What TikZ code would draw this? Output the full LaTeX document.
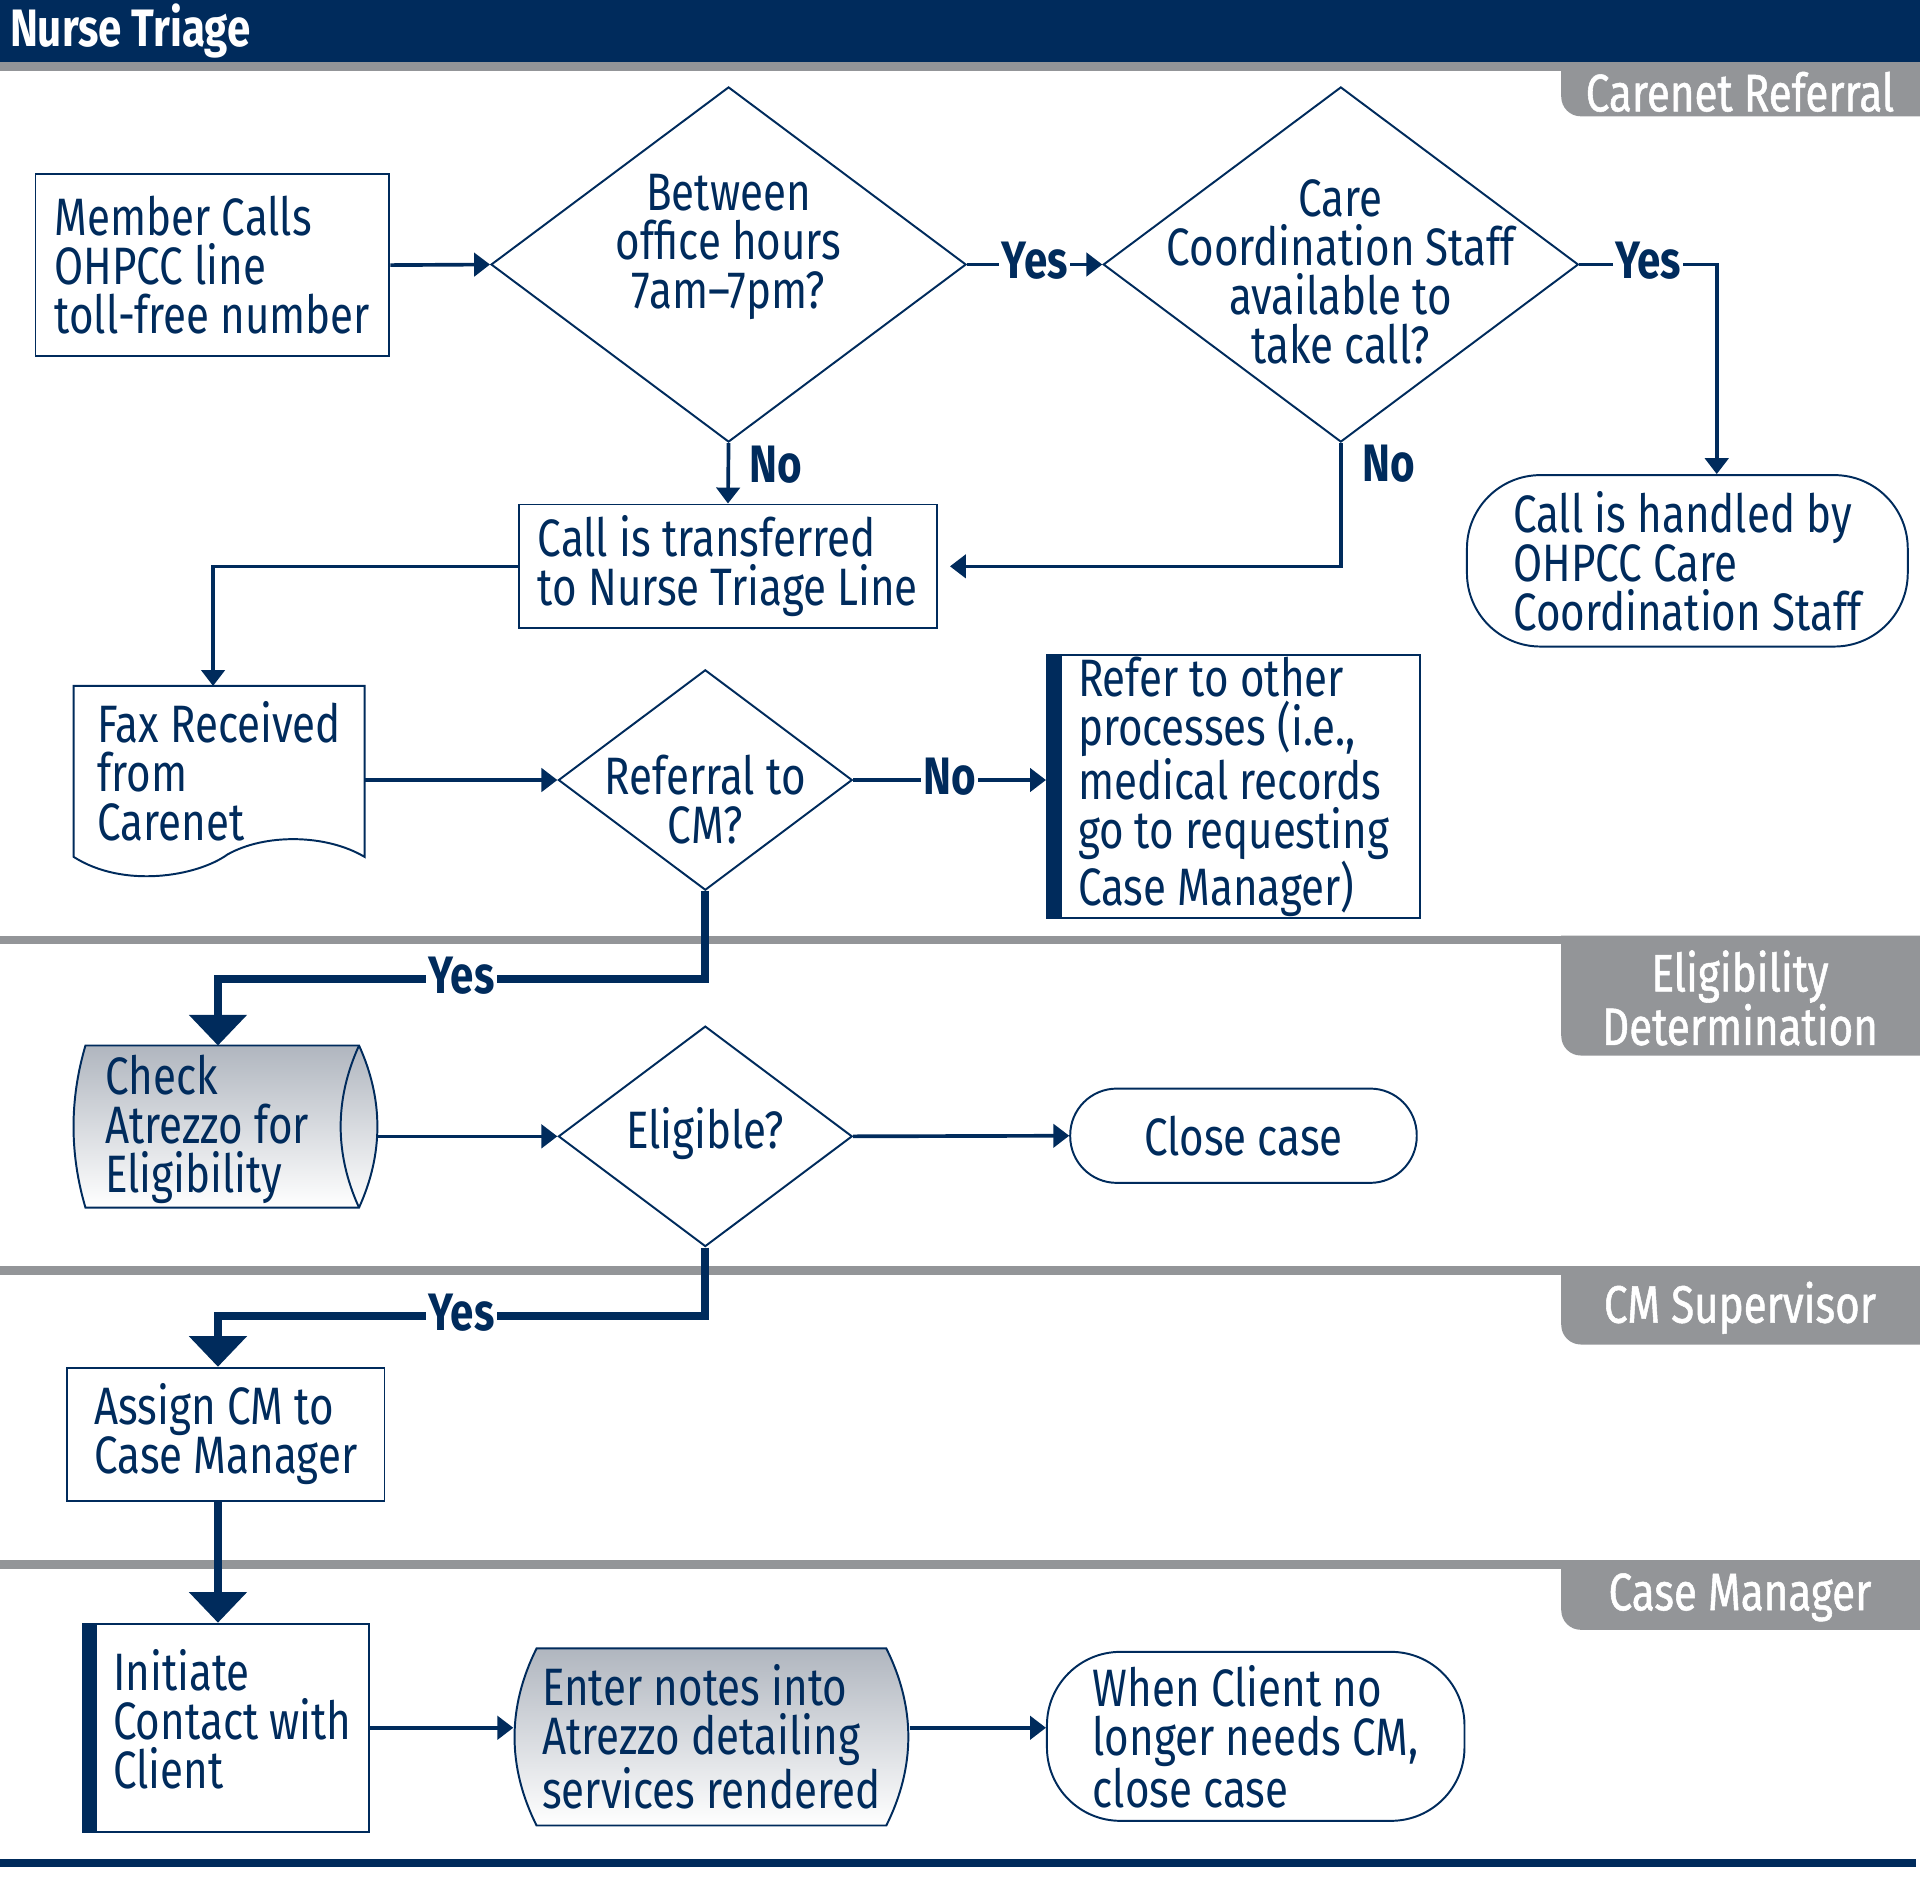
\documentclass[tikz,border=0pt]{standalone}
\usepackage{fontspec}
\setmainfont[FakeStretch=0.80]{Fira Sans}
\newfontfamily\tabfont[FakeStretch=0.80,FakeBold=1]{Fira Sans}
\usetikzlibrary{arrows.meta,positioning,shapes.geometric,calc,backgrounds}
\definecolor{navy}{HTML}{002B5C}
\definecolor{lanegray}{HTML}{939598}
\definecolor{shadegray}{HTML}{B0B6BF}
\newcommand{\flowfont}{\fontsize{43}{40}\selectfont}

\begin{document}
\begin{tikzpicture}[x=1pt, y=-1pt,
  font=\flowfont, text=navy,
  box/.style={draw=navy, line width=1.6pt, align=left, inner sep=0pt},
  term/.style={box, rounded corners=#1},
  dia/.style={diamond, draw=navy, line width=1.6pt, inner sep=0pt},
  dtxt/.style={align=center, inner sep=0pt},
  ltxt/.style={align=left, inner sep=0pt, anchor=west},
  shp/.style={draw=navy, line width=1.6pt},
  arr/.style={-{Triangle[length=13pt,width=19pt]}, line width=3pt, draw=navy},
  thk/.style={-{Triangle[length=25pt,width=46pt]}, line width=6.5pt, draw=navy},
  inlbl/.style={font=\flowfont\bfseries, fill=white, inner xsep=2pt, inner ysep=0pt, yshift=3pt},
  sidelbl/.style={font=\flowfont\bfseries, inner sep=0pt, anchor=west},
  lanetab/.style={font=\tabfont\flowfont, text=white, align=center, inner sep=0pt}
]
\useasboundingbox (0,0) rectangle (1568,1543);

% header
\fill[navy] (0,0) rectangle (1568,51);
\node[anchor=west, font=\flowfont\bfseries, text=white, inner sep=0pt] (title) at (8,25) {Nurse Triage};

% carenet referral
\node[box, minimum width=289pt, minimum height=149pt] (member) at (173.5,216.5) {Member Calls\\OHPCC line\\toll-free number};
\node[dia, minimum width=388pt, minimum height=290pt] (hours) at (595,216) {};
\node[dtxt, yshift=14pt] (hourst) at (hours) {Between\\office hours\\7am–7pm?};
\node[dia, minimum width=388pt, minimum height=290pt] (staff) at (1095,216) {};
\node[dtxt, yshift=-6pt] (stafft) at (staff) {Care\\Coordination Staff\\available to\\take call?};
\node[term=60pt, minimum width=360pt, minimum height=140pt] (handled) at (1378,458) {Call is handled by\\OHPCC Care\\Coordination Staff};
\node[box, minimum width=341pt, minimum height=101pt] (nurse) at (594.5,462.5) {Call is transferred\\to Nurse Triage Line};
\node[box, draw=none, minimum width=236pt, minimum height=138pt] (fax) at (179,630) {Fax Received\\from\\Carenet};
\node[dia, minimum width=240pt, minimum height=180pt] (refq) at (576,637) {};
\node[dtxt, yshift=-16pt] (refqt) at (refq) {Referral to\\CM?};
\node[box, minimum width=305pt, minimum height=215pt] (other) at (1007.5,642.5) {Refer to other\\processes (i.e.,\\medical records\\go to requesting\\Case Manager)};
\fill[navy] (other.north west) rectangle ([xshift=13pt]other.south west);

% eligibility determination
\node[draw=none, minimum width=248pt, minimum height=132pt] (check) at (184,920) {};
\node[ltxt] (checkt) at ([xshift=26pt,yshift=-2pt]check.west) {Check\\Atrezzo for\\Eligibility};
\node[dia, minimum width=240pt, minimum height=180pt] (elig) at (576,928) {};
\node[dtxt, yshift=2pt] (eligt) at (elig) {Eligible?};
\node[term=38pt, minimum width=283pt, minimum height=77pt, align=center] (close) at (1015.5,927.5) {Close case};

% cm supervisor
\node[box, minimum width=259pt, minimum height=109pt] (assign) at (184.5,1171.5) {Assign CM to\\Case Manager};

% case manager
\node[box, minimum width=233pt, minimum height=170pt] (contact) at (184.5,1411) {};
\node[ltxt] (contactt) at ([xshift=25pt,yshift=7pt]contact.west) {Initiate\\Contact with\\Client};
\fill[navy] (contact.north west) rectangle ([xshift=12pt]contact.south west);
\node[box, draw=none, minimum width=322pt, minimum height=143pt] (notes) at (581,1418.5) {Enter notes into\\Atrezzo detailing\\services rendered};
\node[term=60pt, minimum width=341pt, minimum height=138pt] (closecm) at (1025.5,1418) {When Client no\\longer needs CM,\\close case};

\begin{scope}[on background layer]
  \foreach \ly/\lb/\lt [count=\i] in {51/95/Carenet Referral, 764/862/{Eligibility\\Determination}, 1034/1098/CM Supervisor, 1274/1331/Case Manager}{
    \fill[lanegray] (0,\ly) rectangle (1568,\ly+7);
    \fill[lanegray] (1568,\ly) -- (1275,\ly) -- (1275,\lb-16) arc[start angle=180, end angle=270, radius=16pt] -- (1568,\lb) -- cycle;
    \node[lanetab] (lane\i) at (1421,{(\ly+\lb)/2+2}) {\lt};
  }
  % document shape
  \draw[shp, fill=white] (fax.south west) -- (fax.north west) -- (fax.north east) -- (fax.south east)
    .. controls ($(fax.south east)+(-32,-19)$) and ($(fax.south east)+(-82,-19)$) .. ($(fax.south east)+(-112,-2)$)
    .. controls ($(fax.south east)+(-137,16)$) and ($(fax.south east)+(-197,26)$) .. (fax.south west) -- cycle;
  % cylinder
  \shade[shp, top color=shadegray, bottom color=white]
    ($(check.north west)+(10,0)$) -- ($(check.north east)+(-15,0)$)
    .. controls ($(check.north east)+(5,44)$) and ($(check.south east)+(5,-44)$) .. ($(check.south east)+(-15,0)$)
    -- ($(check.south west)+(10,0)$)
    .. controls ($(check.south west)+(-3,-44)$) and ($(check.north west)+(-3,44)$) .. ($(check.north west)+(10,0)$) -- cycle;
  \draw[shp] ($(check.north east)+(-15,0)$)
    .. controls ($(check.north east)+(-35,44)$) and ($(check.south east)+(-35,-44)$) .. ($(check.south east)+(-15,0)$);
  % stored data
  \shade[shp, top color=shadegray, bottom color=white]
    ($(notes.north west)+(19,0)$) -- ($(notes.north east)+(-19,0)$)
    .. controls ($(notes.north east)+(5,48)$) and ($(notes.south east)+(5,-48)$) .. ($(notes.south east)+(-19,0)$)
    -- ($(notes.south west)+(19,0)$)
    .. controls ($(notes.south west)+(-5,-48)$) and ($(notes.north west)+(-5,48)$) .. ($(notes.north west)+(19,0)$) -- cycle;
\end{scope}

% connectors
\draw[arr] (member.east) -- (hours.west);
\draw[arr] (hours.east) -- node[inlbl]{Yes} (staff.west);
\draw[arr] (staff.east) -| node[inlbl, pos=.25]{Yes} ([xshift=24pt]handled.north);
\draw[arr] (hours.south) -- node[sidelbl, pos=.35, xshift=16pt]{No} (nurse.north);
\draw[arr, shorten >=10pt] (staff.south) |- node[sidelbl, pos=.085, xshift=16pt]{No} (nurse.east);
\draw[arr] (nurse.west) -| ([xshift=-5pt]fax.north);
\draw[arr] (fax.east |- refq.west) -- (refq.west);
\draw[arr] (refq.east) -- node[inlbl]{No} (refq.east -| other.west);
\draw[thk] (refq.south) -- ++(0,72) -| node[inlbl, pos=.25]{Yes} ([xshift=-6pt]check.north);
\draw[arr] (check.east |- elig.west) -- (elig.west);
\draw[arr] (elig.east) -- (close.west);
\draw[thk] (elig.south) -- ++(0,56) -| node[inlbl, pos=.25]{Yes} ([xshift=-6.5pt]assign.north);
\draw[thk] ([xshift=-6.5pt]assign.south) -- ([xshift=-6.5pt]contact.north);
\draw[arr] (contact.east) -- (contact.east -| notes.west);
\draw[arr] (notes.east |- contact.east) -- (closecm.west |- contact.east);

% bottom rule
\fill[navy] (0,1518) rectangle (1565,1525);
\end{tikzpicture}
\end{document}
